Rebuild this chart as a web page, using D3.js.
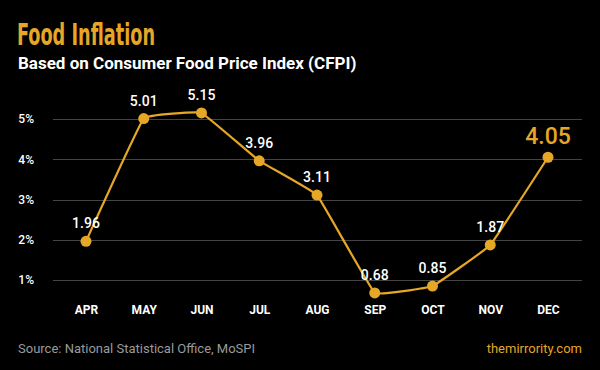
<!DOCTYPE html>
<html><head><meta charset="utf-8">
<script src="https://cdn.jsdelivr.net/npm/d3@7"></script>
<style>
html,body{margin:0;padding:0;background:#000;}
svg{display:block;}
</style></head>
<body>
<script>
const months = ["APR","MAY","JUN","JUL","AUG","SEP","OCT","NOV","DEC"];
const values = [1.96,5.01,5.15,3.96,3.11,0.68,0.85,1.87,4.05];
const yTicks = [1,2,3,4,5];

const W=600,H=370;
const gold="#E6A626";
const svg=d3.select("body").append("svg").attr("width",W).attr("height",H);
svg.append("rect").attr("width",W).attr("height",H).attr("fill","#000");

const x=d3.scalePoint().domain(months).range([86,548]);
const y=d3.scaleLinear().domain([1,5]).range([280,119]);

svg.append("text").attr("x",17).attr("y",45).text("Food Inflation")
  .attr("fill",gold).attr("font-family","'Liberation Sans Narrow','DejaVu Sans Condensed',sans-serif")
  .attr("font-weight","bold").attr("font-size",31).attr("textLength",138).attr("lengthAdjust","spacingAndGlyphs");
svg.append("text").attr("x",18).attr("y",69).text("Based on Consumer Food Price Index (CFPI)")
  .attr("fill","#fff").attr("font-family","Roboto,sans-serif").attr("font-weight","bold").attr("font-size",17);

const grid=svg.append("g");
grid.selectAll("line").data(yTicks).join("line")
  .attr("x1",53).attr("x2",582).attr("y1",d=>Math.round(y(d))+0.5).attr("y2",d=>Math.round(y(d))+0.5)
  .attr("stroke","#444").attr("stroke-width",1);

const yAxis=d3.axisLeft(y).tickValues(yTicks).tickFormat(d=>d+"%").tickSize(0).tickPadding(0);
const ga=svg.append("g").attr("transform","translate(34,0)").call(yAxis);
ga.select(".domain").remove();
ga.selectAll("text").attr("fill","#fff").attr("font-family","Roboto,sans-serif").attr("font-size",12).attr("font-weight","500");

const xAxis=d3.axisBottom(x).tickSize(0).tickPadding(0);
const gx=svg.append("g").attr("transform","translate(0,305)").call(xAxis);
gx.select(".domain").remove();
gx.selectAll("text").attr("fill","#fff").attr("font-family","Roboto,sans-serif").attr("font-size",12).attr("font-weight","bold");

const line=d3.line().x((d,i)=>x(months[i])).y(d=>y(d)).curve(d3.curveCardinal.tension(0.8));
svg.append("path").datum(values).attr("d",line).attr("fill","none").attr("stroke",gold).attr("stroke-width",2.2);

svg.selectAll("circle.pt").data(values).join("circle").attr("class","pt")
  .attr("cx",(d,i)=>x(months[i])).attr("cy",d=>y(d)).attr("r",5.5).attr("fill",gold);

svg.selectAll("text.val").data(values).join("text").attr("class","val")
  .attr("x",(d,i)=>x(months[i])).attr("y",(d,i)=>y(d)-13)
  .attr("text-anchor","middle")
  .attr("fill",(d,i)=>i===values.length-1?gold:"#fff")
  .attr("font-family","Roboto,sans-serif").attr("font-weight","500")
  .attr("font-size",(d,i)=>i===values.length-1?23:14)
  .text(d=>d.toFixed(2));

svg.append("text").attr("x",18).attr("y",353).text("Source: National Statistical Office, MoSPI")
  .attr("fill","#9a9a9a").attr("font-family","Roboto,sans-serif").attr("font-size",13);
svg.append("text").attr("x",582).attr("y",353).attr("text-anchor","end").text("themirrority.com")
  .attr("fill",gold).attr("font-family","Roboto,sans-serif").attr("font-size",13);
</script>
</body></html>
